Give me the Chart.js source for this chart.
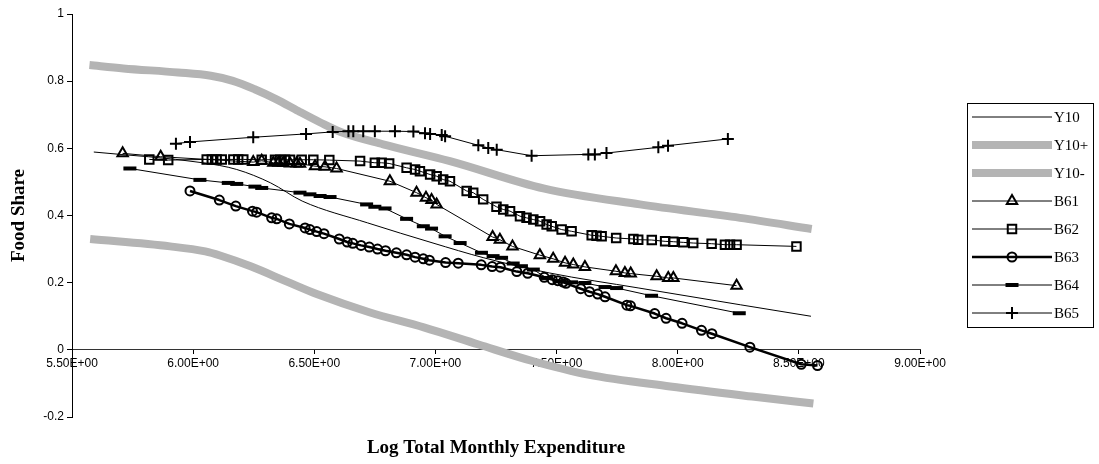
<!DOCTYPE html>
<html>
<head>
<meta charset="utf-8">
<script src="https://cdn.jsdelivr.net/npm/chart.js@4.4.1/dist/chart.umd.min.js"></script>
<style>
  html, body { margin: 0; padding: 0; background: #fff; }
  canvas { display: block; }
</style>
</head>
<body>
<canvas id="c" width="1099" height="464"></canvas>
<script>
// Axis ticks
const xTickValues = [5.5, 6.0, 6.5, 7.0, 7.5, 8.0, 8.5, 9.0];
const xTickLabels = ['5.50E+00', '6.00E+00', '6.50E+00', '7.00E+00', '7.50E+00', '8.00E+00', '8.50E+00', '9.00E+00'];
const yTickValues = [-0.2, 0, 0.2, 0.4, 0.6, 0.8, 1];
const yTickLabels = ['-0.2', '0', '0.2', '0.4', '0.6', '0.8', '1'];

// Fitted curve and its band
const y10X = [5.59, 6.04, 6.18, 6.32, 6.45, 6.72, 6.99, 7.20, 7.47, 7.84, 8.26, 8.55];
const y10Y = [0.589, 0.557, 0.537, 0.497, 0.443, 0.378, 0.318, 0.274, 0.229, 0.184, 0.134, 0.100];

const y10PlusX = [5.572, 5.712, 5.938, 6.073, 6.164, 6.254, 6.344, 6.434, 6.525, 6.615, 6.784, 7.06, 7.45, 7.844, 8.257, 8.553];
const y10PlusY = [0.848, 0.838, 0.826, 0.816, 0.801, 0.776, 0.746, 0.711, 0.677, 0.647, 0.612, 0.562, 0.480, 0.433, 0.393, 0.360];

const y10MinusX = [5.575, 5.905, 6.05, 6.111, 6.24, 6.387, 6.51, 6.727, 6.952, 7.178, 7.404, 7.63, 7.969, 8.307, 8.56];
const y10MinusY = [0.330, 0.308, 0.293, 0.281, 0.248, 0.203, 0.166, 0.112, 0.067, 0.016, -0.034, -0.074, -0.109, -0.139, -0.160];

// Observed groups
const b61X = [5.709, 5.866, 6.248, 6.283, 6.331, 6.352, 6.372, 6.400, 6.427, 6.441, 6.503, 6.544, 6.592, 6.812, 6.922, 6.961, 6.984, 7.005, 7.236, 7.266, 7.318, 7.431, 7.486, 7.535, 7.569, 7.617, 7.745, 7.782, 7.806, 7.913, 7.961, 7.982, 8.243];
const b61Y = [0.585, 0.575, 0.559, 0.563, 0.557, 0.557, 0.556, 0.555, 0.555, 0.554, 0.547, 0.545, 0.540, 0.502, 0.468, 0.453, 0.446, 0.433, 0.336, 0.328, 0.308, 0.282, 0.271, 0.259, 0.254, 0.247, 0.234, 0.229, 0.227, 0.219, 0.214, 0.214, 0.191];

const b62X = [5.819, 5.897, 6.056, 6.077, 6.097, 6.118, 6.166, 6.186, 6.207, 6.283, 6.338, 6.359, 6.379, 6.400, 6.448, 6.496, 6.562, 6.689, 6.750, 6.778, 6.809, 6.881, 6.916, 6.936, 6.978, 7.005, 7.032, 7.060, 7.129, 7.156, 7.197, 7.252, 7.280, 7.308, 7.349, 7.376, 7.404, 7.432, 7.459, 7.480, 7.521, 7.562, 7.645, 7.665, 7.686, 7.746, 7.817, 7.837, 7.893, 7.948, 7.982, 8.023, 8.064, 8.140, 8.195, 8.216, 8.243, 8.490];
const b62Y = [0.567, 0.565, 0.567, 0.567, 0.567, 0.567, 0.567, 0.567, 0.567, 0.566, 0.566, 0.566, 0.566, 0.566, 0.566, 0.566, 0.565, 0.562, 0.557, 0.557, 0.555, 0.542, 0.537, 0.532, 0.522, 0.517, 0.507, 0.502, 0.473, 0.468, 0.448, 0.426, 0.418, 0.413, 0.398, 0.393, 0.388, 0.383, 0.373, 0.368, 0.358, 0.353, 0.341, 0.340, 0.338, 0.333, 0.330, 0.328, 0.327, 0.323, 0.322, 0.320, 0.318, 0.316, 0.313, 0.313, 0.313, 0.308];

const b63X = [5.987, 6.108, 6.176, 6.245, 6.262, 6.324, 6.345, 6.397, 6.462, 6.482, 6.510, 6.540, 6.603, 6.636, 6.659, 6.693, 6.727, 6.761, 6.794, 6.839, 6.881, 6.916, 6.950, 6.975, 7.042, 7.094, 7.189, 7.234, 7.268, 7.336, 7.381, 7.449, 7.482, 7.505, 7.527, 7.539, 7.600, 7.636, 7.670, 7.700, 7.790, 7.805, 7.905, 7.952, 8.018, 8.098, 8.141, 8.298, 8.510, 8.577];
const b63Y = [0.473, 0.446, 0.428, 0.413, 0.410, 0.393, 0.390, 0.375, 0.363, 0.358, 0.352, 0.346, 0.330, 0.321, 0.317, 0.311, 0.306, 0.300, 0.295, 0.289, 0.283, 0.276, 0.271, 0.267, 0.260, 0.258, 0.253, 0.248, 0.246, 0.233, 0.228, 0.216, 0.209, 0.206, 0.202, 0.198, 0.182, 0.173, 0.166, 0.158, 0.133, 0.131, 0.108, 0.094, 0.079, 0.058, 0.048, 0.008, -0.043, -0.047];

const b64X = [5.739, 6.028, 6.145, 6.180, 6.255, 6.283, 6.441, 6.482, 6.524, 6.565, 6.716, 6.750, 6.792, 6.881, 6.950, 6.984, 7.040, 7.102, 7.190, 7.238, 7.273, 7.321, 7.355, 7.404, 7.459, 7.514, 7.562, 7.617, 7.700, 7.748, 7.892, 8.254];
const b64Y = [0.540, 0.506, 0.497, 0.494, 0.486, 0.482, 0.468, 0.463, 0.458, 0.455, 0.433, 0.426, 0.421, 0.390, 0.368, 0.361, 0.338, 0.318, 0.289, 0.279, 0.274, 0.257, 0.249, 0.239, 0.214, 0.204, 0.201, 0.199, 0.187, 0.184, 0.161, 0.109];

const b65X = [5.929, 5.987, 6.248, 6.466, 6.576, 6.641, 6.661, 6.702, 6.750, 6.833, 6.909, 6.957, 6.978, 7.026, 7.040, 7.177, 7.218, 7.253, 7.397, 7.631, 7.658, 7.706, 7.920, 7.960, 8.207];
const b65Y = [0.614, 0.619, 0.633, 0.643, 0.649, 0.651, 0.651, 0.651, 0.651, 0.651, 0.650, 0.645, 0.643, 0.640, 0.636, 0.609, 0.601, 0.596, 0.578, 0.582, 0.582, 0.586, 0.603, 0.608, 0.628];

const pts = (xs, ys) => xs.map((x, i) => ({ x: x, y: ys[i] }));

const BAND = '#b4b4b4';
const INK = '#000000';

function lineSeries(label, xs, ys, opts) {
  return Object.assign({
    label: label,
    data: pts(xs, ys),
    showLine: true,
    borderColor: INK,
    borderWidth: 1,
    pointRadius: 0,
    pointHoverRadius: 0,
    pointBorderColor: INK,
    pointBackgroundColor: 'rgba(0,0,0,0)',
    pointBorderWidth: 2,
    tension: 0
  }, opts);
}

const datasets = [
  lineSeries('Y10', y10X, y10Y, { order: 8, cubicInterpolationMode: 'monotone' }),
  lineSeries('Y10+', y10PlusX, y10PlusY, { order: 10, borderColor: BAND, borderWidth: 8, cubicInterpolationMode: 'monotone' }),
  lineSeries('Y10-', y10MinusX, y10MinusY, { order: 10, borderColor: BAND, borderWidth: 8, cubicInterpolationMode: 'monotone' }),
  lineSeries('B61', b61X, b61Y, { order: 5, pointStyle: 'triangle', pointRadius: 6 }),
  lineSeries('B62', b62X, b62Y, { order: 4, pointStyle: 'rect', pointRadius: 6 }),
  lineSeries('B63', b63X, b63Y, { order: 3, borderWidth: 2.5, pointStyle: 'circle', pointRadius: 4.5 }),
  lineSeries('B64', b64X, b64Y, { order: 2, pointStyle: 'line', pointRadius: 6.5, pointBorderWidth: 4 }),
  lineSeries('B65', b65X, b65Y, { order: 1, pointStyle: 'cross', pointRadius: 6, pointBorderWidth: 2 })
];

// Boxed legend with line samples and marker glyphs
const boxedLegend = {
  id: 'boxedLegend',
  afterDraw(chart) {
    const ctx = chart.ctx;
    const left = 967, top = 103, w = 126, h = 224, rowH = 28;
    ctx.save();
    ctx.strokeStyle = '#000';
    ctx.lineWidth = 1;
    ctx.strokeRect(left + 0.5, top + 0.5, w, h);
    chart.data.datasets.forEach((ds, i) => {
      const y = top + 14 + i * rowH;
      ctx.beginPath();
      ctx.lineWidth = ds.borderWidth;
      ctx.strokeStyle = ds.borderColor;
      ctx.lineCap = 'butt';
      ctx.moveTo(972, y);
      ctx.lineTo(1052, y);
      ctx.stroke();
      if (ds.pointRadius > 0) {
        ctx.lineWidth = ds.pointBorderWidth;
        ctx.strokeStyle = ds.pointBorderColor;
        ctx.fillStyle = ds.pointBackgroundColor;
        Chart.helpers.drawPoint(ctx, {
          pointStyle: ds.pointStyle,
          radius: ds.pointRadius,
          borderWidth: ds.pointBorderWidth,
          rotation: 0
        }, 1012, y);
      }
      ctx.fillStyle = '#000';
      ctx.font = '15px "Liberation Serif", "Times New Roman", serif';
      ctx.textAlign = 'left';
      ctx.textBaseline = 'middle';
      ctx.fillText(ds.label, 1054, y + 1);
    });
    ctx.restore();
  }
};

// Axis titles
const axisTitles = {
  id: 'axisTitles',
  afterDraw(chart) {
    const ctx = chart.ctx;
    const area = chart.chartArea;
    ctx.save();
    ctx.fillStyle = '#000';
    ctx.font = 'bold 19px "Liberation Serif", "Times New Roman", serif';
    ctx.textAlign = 'center';
    ctx.textBaseline = 'middle';
    ctx.fillText('Log Total Monthly Expenditure', (area.left + area.right) / 2, 448);
    ctx.translate(19, (area.top + area.bottom) / 2);
    ctx.rotate(-Math.PI / 2);
    ctx.fillText('Food Share', 0, 0);
    ctx.restore();
  }
};

const tickFont = { family: '"Liberation Sans", Arial, sans-serif', size: 12 };

new Chart(document.getElementById('c'), {
  type: 'scatter',
  data: { datasets: datasets },
  options: {
    responsive: false,
    animation: false,
    devicePixelRatio: 1,
    layout: { padding: { left: 0, right: 179, top: 14, bottom: 47 } },
    plugins: { legend: { display: false }, tooltip: { enabled: false } },
    elements: { line: { borderCapStyle: 'butt', borderJoinStyle: 'round' } },
    scales: {
      x: {
        type: 'linear',
        position: { y: 0 },
        min: 5.5,
        max: 9.0,
        afterBuildTicks: (s) => { s.ticks = xTickValues.map(v => ({ value: v })); },
        afterFit: (s) => { s.height = 0; },
        ticks: {
          callback: (v, i) => xTickLabels[i],
          font: tickFont, color: '#000', maxRotation: 0, autoSkip: false, padding: 3
        },
        grid: { display: true, drawOnChartArea: false, drawTicks: true, tickLength: 4, color: '#000' },
        border: { display: true, color: '#333', width: 1 }
      },
      y: {
        type: 'linear',
        position: 'left',
        min: -0.2,
        max: 1,
        afterBuildTicks: (s) => { s.ticks = yTickValues.map(v => ({ value: v })); },
        afterFit: (s) => { s.width = 72; },
        ticks: {
          callback: (v, i) => yTickLabels[i],
          font: tickFont, color: '#000', padding: 3
        },
        grid: { display: true, drawOnChartArea: false, drawTicks: true, tickLength: 5, color: '#000' },
        border: { display: true, color: '#000', width: 1 }
      }
    }
  },
  plugins: [boxedLegend, axisTitles]
});
</script>
</body>
</html>
